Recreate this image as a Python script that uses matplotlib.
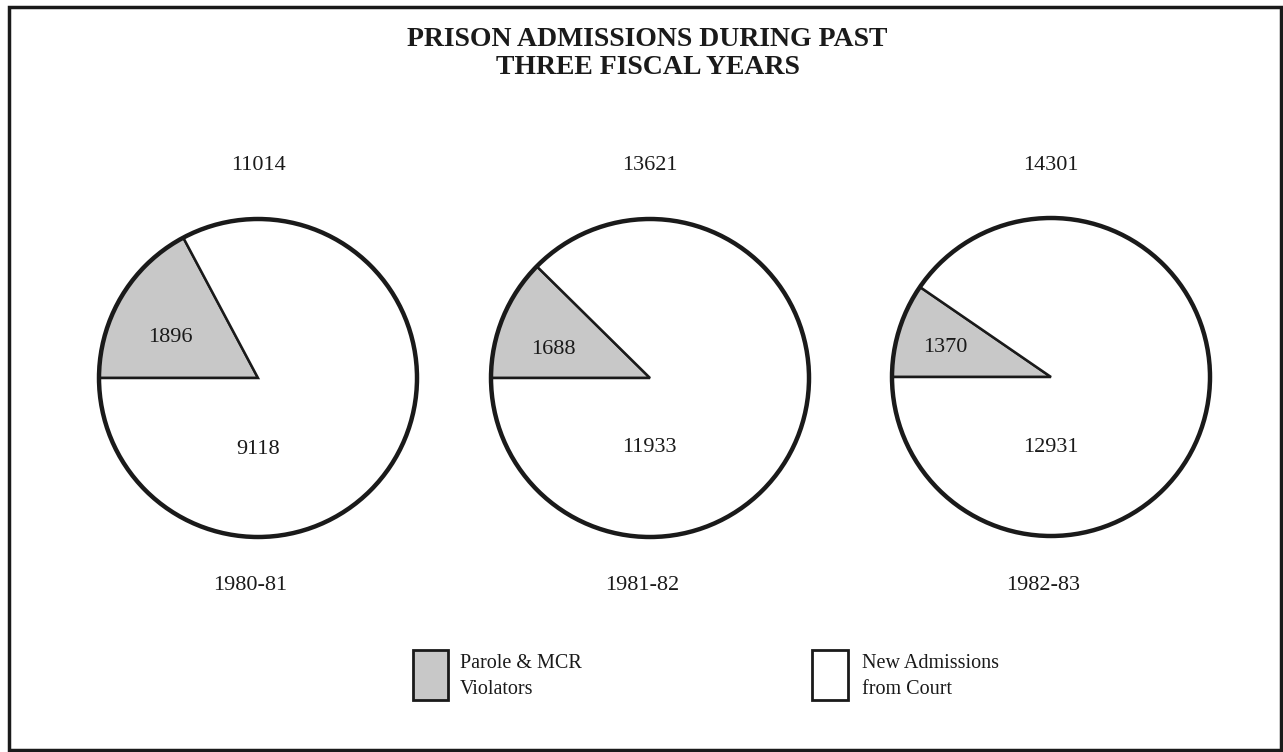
import matplotlib.pyplot as plt
from matplotlib.patches import Circle, Rectangle

plt.rcParams['font.family'] = ['Liberation Serif', 'DejaVu Serif']

# data
years = ['1980-81', '1981-82', '1982-83']
totals = [11014, 13621, 14301]
parole = [1896, 1688, 1370]
new_adm = [9118, 11933, 12931]

gray = '#c8c8c8'
ink = '#1a1a1a'
W, H = 1283, 752

fig = plt.figure(figsize=(W / 100, H / 100), dpi=100)
ax = fig.add_axes([0, 0, 1, 1])

# pie centres in pixels (x, y from top)
centers = [(258, 378), (650, 378), (1051, 377)]
R = 159

for i in range(3):
    cx, cy = centers[i]
    c = (cx, H - cy)
    ax.pie([parole[i], new_adm[i]], center=c, radius=R, startangle=180,
           counterclock=False, colors=[gray, 'white'],
           wedgeprops=dict(edgecolor=ink, linewidth=1.8))
    ax.add_patch(Circle(c, R, fill=False, edgecolor=ink, linewidth=3.2, zorder=5))
    ax.text(cx, H - 166, str(totals[i]), ha='center', va='center', fontsize=16, color=ink)
    ax.text(cx - 8, H - 585, years[i], ha='center', va='center', fontsize=16, color=ink)

# labels inside the pies
ax.text(170, H - 338, str(parole[0]), ha='center', va='center', fontsize=16, color=ink)
ax.text(553, H - 350, str(parole[1]), ha='center', va='center', fontsize=16, color=ink)
ax.text(945, H - 348, str(parole[2]), ha='center', va='center', fontsize=16, color=ink)
ax.text(258, H - 450, str(new_adm[0]), ha='center', va='center', fontsize=16, color=ink)
ax.text(649, H - 447, str(new_adm[1]), ha='center', va='center', fontsize=16, color=ink)
ax.text(1051, H - 447, str(new_adm[2]), ha='center', va='center', fontsize=16, color=ink)

ax.text(W / 2 + 6, H - 40, 'PRISON ADMISSIONS DURING PAST', ha='center', va='center',
        fontsize=20, fontweight='bold', color=ink)
ax.text(W / 2 + 6, H - 68, 'THREE FISCAL YEARS', ha='center', va='center',
        fontsize=20, fontweight='bold', color=ink)

# legend
ax.add_patch(Rectangle((413, H - 700), 35, 50, facecolor=gray, edgecolor=ink, linewidth=2))
ax.text(460, H - 663, 'Parole & MCR', ha='left', va='center', fontsize=14.5, color=ink)
ax.text(460, H - 689, 'Violators', ha='left', va='center', fontsize=14.5, color=ink)
ax.add_patch(Rectangle((812, H - 700), 36, 50, facecolor='white', edgecolor=ink, linewidth=2))
ax.text(862, H - 663, 'New Admissions', ha='left', va='center', fontsize=14.5, color=ink)
ax.text(862, H - 689, 'from Court', ha='left', va='center', fontsize=14.5, color=ink)

# outer frame
ax.add_patch(Rectangle((9, 2), W - 11, H - 9, fill=False, edgecolor=ink, linewidth=2.5))

ax.set_xlim(0, W)
ax.set_ylim(0, H)
ax.set_aspect('equal')
ax.axis('off')

fig.savefig('out.png', dpi=100)
